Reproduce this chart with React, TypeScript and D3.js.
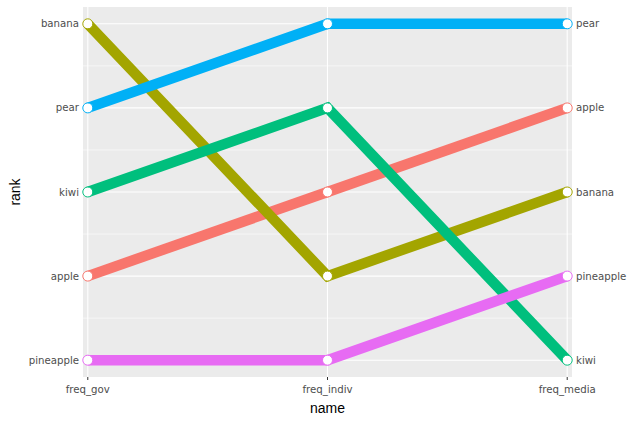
import React from "react";
import * as d3 from "d3";

const periods = ["freq_gov", "freq_indiv", "freq_media"];
const fruits = ["apple", "banana", "kiwi", "pear", "pineapple"];
const rankGov = [4, 1, 3, 2, 5];
const rankIndiv = [3, 4, 2, 1, 5];
const rankMedia = [2, 3, 5, 1, 4];
const fruitColors = ["#F8766D", "#A3A500", "#00BF7D", "#00B0F6", "#E76BF3"];
const rankTicks = [1, 2, 3, 4, 5];
const minorTicks = [1.5, 2.5, 3.5, 4.5];

const W = 638;
const H = 423;
const panel = { left: 83, right: 572, top: 7, bottom: 377 };

export default function App() {
  const x = d3
    .scalePoint<string>()
    .domain(periods)
    .range([panel.left, panel.right])
    .padding(0.02);
  const y = d3
    .scaleLinear()
    .domain([0.8, 5.2])
    .range([panel.top, panel.bottom]);

  const rankSets = [rankGov, rankIndiv, rankMedia];
  const series = fruits.map((f, i) => ({
    name: f,
    color: fruitColors[i],
    pts: periods.map((p, j) => ({ p, r: rankSets[j][i] })),
  }));

  const line = d3
    .line<{ p: string; r: number }>()
    .x((d) => x(d.p) as number)
    .y((d) => y(d.r));

  const font = "Liberation Sans, Arial, sans-serif";
  const tickFont = "DejaVu Sans, Verdana, sans-serif";
  const tickSize = 10.2;
  const axisCol = "#4D4D4D";

  return (
    <svg width={W} height={H} style={{ position: "absolute", left: 0, top: 0, background: "#fff" }}>
      <rect
        x={panel.left}
        y={panel.top}
        width={panel.right - panel.left}
        height={panel.bottom - panel.top}
        fill="#EBEBEB"
      />
      {minorTicks.map((t) => (
        <line key={"mn" + t} x1={panel.left} x2={panel.right} y1={y(t)} y2={y(t)} stroke="#fff" strokeWidth={0.6} />
      ))}
      {rankTicks.map((t) => (
        <line key={"mj" + t} x1={panel.left} x2={panel.right} y1={y(t)} y2={y(t)} stroke="#fff" strokeWidth={1.1} />
      ))}
      {periods.map((p) => (
        <line key={"v" + p} x1={x(p)} x2={x(p)} y1={panel.top} y2={panel.bottom} stroke="#fff" strokeWidth={1.1} />
      ))}
      {series.map((s) => (
        <path
          key={"l" + s.name}
          d={line(s.pts) || ""}
          fill="none"
          stroke={s.color}
          strokeWidth={10.5}
          strokeLinejoin="miter"
        />
      ))}
      {series.map((s) =>
        s.pts.map((d) => (
          <circle
            key={"c" + s.name + d.p}
            cx={x(d.p)}
            cy={y(d.r)}
            r={5}
            fill="#fff"
            stroke={s.color}
            strokeWidth={1}
          />
        ))
      )}
      {fruits.map((f, i) => (
        <text
          key={"ll" + f}
          x={79}
          y={y(rankGov[i])}
          dy="0.35em"
          textAnchor="end"
          fontFamily={tickFont}
          fontSize={tickSize}
          fill={axisCol}
        >
          {f}
        </text>
      ))}
      {fruits.map((f, i) => (
        <text
          key={"rl" + f}
          x={576}
          y={y(rankMedia[i])}
          dy="0.35em"
          textAnchor="start"
          fontFamily={tickFont}
          fontSize={tickSize}
          fill={axisCol}
        >
          {f}
        </text>
      ))}
      {periods.map((p) => (
        <g key={"xt" + p}>
          <line x1={x(p)} x2={x(p)} y1={panel.bottom} y2={panel.bottom + 3} stroke="#333" strokeWidth={1} />
          <text
            x={x(p)}
            y={panel.bottom + 16}
            textAnchor="middle"
            fontFamily={tickFont}
            fontSize={tickSize}
            fill={axisCol}
          >
            {p}
          </text>
        </g>
      ))}
      <text x={(panel.left + panel.right) / 2} y={413} textAnchor="middle" fontFamily={font} fontSize={14} fill="#000">
        name
      </text>
      <text
        transform={`translate(20,${(panel.top + panel.bottom) / 2}) rotate(-90)`}
        textAnchor="middle"
        fontFamily={font}
        fontSize={14}
        fill="#000"
      >
        rank
      </text>
    </svg>
  );
}
